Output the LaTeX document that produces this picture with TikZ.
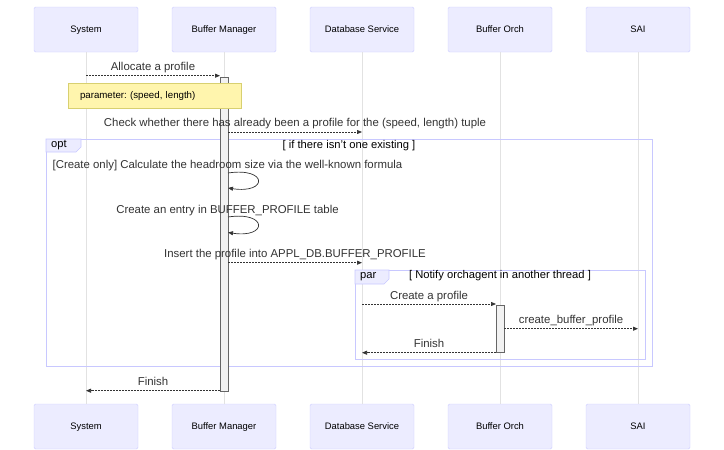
\documentclass[tikz,border=0pt]{standalone}
\usepackage{fontspec}
\setmainfont{Liberation Sans}
\usetikzlibrary{arrows.meta}
\usetikzlibrary{positioning}
\frenchspacing
\definecolor{actorfill}{HTML}{ECECFF}
\definecolor{actorline}{HTML}{CCCCFF}
\definecolor{loopline}{HTML}{C8C8FF}
\definecolor{notefill}{HTML}{FFF5AD}
\definecolor{noteline}{HTML}{D8D070}
\definecolor{msgtext}{HTML}{333333}
\definecolor{lifeline}{HTML}{E2E2E2}
\tikzset{
actor/.style={draw=actorline, fill=actorfill, rounded corners=1.5pt, minimum height=45pt, minimum width=104pt, font=\fontsize{9.4}{11}\selectfont, text=black, text height=7pt, text depth=2pt},
actbar/.style={draw=black!60, fill=black!5, minimum width=8pt, inner sep=0pt},
msg/.style={draw=msgtext, line width=0.7pt, dash pattern=on 1.6pt off 1.4pt, -{Triangle[length=5pt,width=4pt]}},
selfmsg/.style={draw=msgtext, line width=0.7pt, -{Triangle[length=5pt,width=4pt]}},
msgtext/.style={text=msgtext, font=\fontsize{11.4}{13}\selectfont, inner sep=2pt, text height=8.5pt, text depth=2.5pt},
looptab/.style={draw=loopline, fill=actorfill, line width=0.6pt},
loopbox/.style={draw=loopline, line width=0.9pt},
looplabel/.style={font=\fontsize{11.2}{13}\selectfont, text=black, inner sep=0pt},
notebox/.style={draw=noteline, fill=notefill, minimum height=25pt, inner xsep=12pt, text width=149pt, align=left, font=\fontsize{9.7}{11}\selectfont, text=black},
}
\begin{document}
\begin{tikzpicture}[x=1pt, y=-1pt]
\useasboundingbox (0,0) rectangle (724,450);

% actors
\node[actor] (sys) at (86,29.5) {System};
\node[actor] (bm) at (224,29.5) {Buffer Manager};
\node[actor] (db) at (362,29.5) {Database Service};
\node[actor] (bo) at (500,29.5) {Buffer Orch};
\node[actor] (sai) at (638,29.5) {SAI};

\node[actor] (sysb) at (86,426.5) {System};
\node[actor] (bmb) at (224,426.5) {Buffer Manager};
\node[actor] (dbb) at (362,426.5) {Database Service};
\node[actor] (bob) at (500,426.5) {Buffer Orch};
\node[actor] (saib) at (638,426.5) {SAI};

% lifelines
\draw[lifeline, line width=0.8pt] (sys) -- (sysb);
\draw[lifeline, line width=0.8pt] (bm) -- (bmb);
\draw[lifeline, line width=0.8pt] (db) -- (dbb);
\draw[lifeline, line width=0.8pt] (bo) -- (bob);
\draw[lifeline, line width=0.8pt] (sai) -- (saib);

% loops
\draw[loopbox] (46,139) rectangle (652,366);
\draw[looptab] (46,139) -- (81,139) -- (81,147) -- (76,152) -- (46,152) -- cycle;
\node[looplabel, anchor=west] (optlabel) at (51,145.5) {opt};
\node[looplabel] (optcond) at (349,145.5) {[ if there isn't one existing ]};

\draw[loopbox] (355,270) rectangle (645,359);
\draw[looptab] (355,270) -- (389,270) -- (389,279) -- (384,284) -- (355,284) -- cycle;
\node[looplabel, anchor=west] (parlabel) at (360,277) {par};
\node[looplabel] (parcond) at (500,276) {[ Notify orchagent in another thread ]};

% activations
\node[actbar, minimum height=314pt] (actbm) at (224,234) {};
\node[actbar, minimum height=47pt] (actbo) at (500,328.5) {};

% messages
\coordinate (m1a) at (86,75.7);
\coordinate (m1b) at (220,75.7);
\draw[msg] (m1a) -- node[msgtext, above] {Allocate a profile} (m1b);

\node[notebox] (note) at (154.5,95.5) {parameter: (speed, length)};

\coordinate (m2a) at (228,132);
\coordinate (m2b) at (362,132);
\draw[msg] (m2a) -- (m2b);
\node[msgtext] (m2t) at (295,123) {Check whether there has already been a profile for the (speed, length) tuple};

\coordinate (s1a) at (228,173);
\coordinate (s1b) at (228,188);
\draw[selfmsg] (s1a) .. controls (268,167) and (268,194) .. (s1b);
\node[msgtext] (s1t) at (227.5,165) {[Create only] Calculate the headroom size via the well-known formula};

\coordinate (s2a) at (228,217);
\coordinate (s2b) at (228,232.5);
\draw[selfmsg] (s2a) .. controls (268,211) and (268,238.5) .. (s2b);
\node[msgtext] (s2t) at (227.5,210) {Create an entry in BUFFER\_PROFILE table};

\coordinate (m3a) at (228,262.7);
\coordinate (m3b) at (362,262.7);
\draw[msg] (m3a) -- (m3b);
\node[msgtext] (m3t) at (295,254) {Insert the profile into APPL\_DB.BUFFER\_PROFILE};

\coordinate (m4a) at (362,304);
\coordinate (m4b) at (496,304);
\draw[msg] (m4a) -- node[msgtext, above] {Create a profile} (m4b);

\coordinate (m5a) at (504,328.7);
\coordinate (m5b) at (638,328.7);
\draw[msg] (m5a) -- node[msgtext, above] {create\_buffer\_profile} (m5b);

\coordinate (m6a) at (496,352.7);
\coordinate (m6b) at (362,352.7);
\draw[msg] (m6a) -- node[msgtext, above] {Finish} (m6b);

\coordinate (m7a) at (220,390.7);
\coordinate (m7b) at (86,390.7);
\draw[msg] (m7a) -- node[msgtext, above] {Finish} (m7b);

\end{tikzpicture}
\end{document}
